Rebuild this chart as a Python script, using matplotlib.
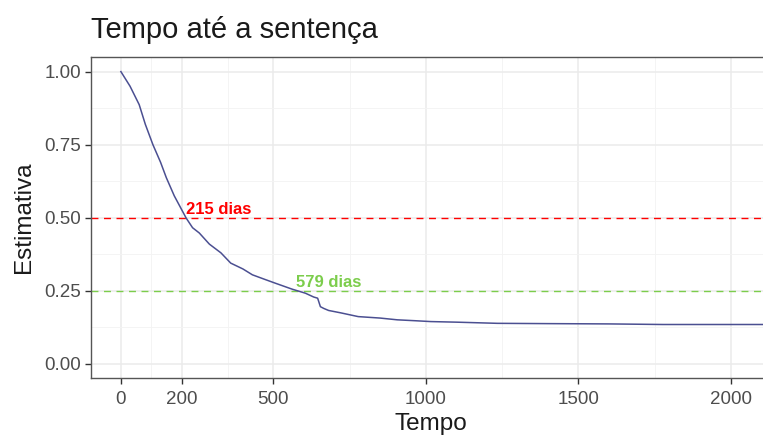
import matplotlib
matplotlib.use("Agg")
import matplotlib.pyplot as plt

plt.rcParams['font.family'] = ['Liberation Sans', 'DejaVu Sans']

tempo = [0, 30, 60, 80, 105, 130, 149, 175, 214, 235, 257, 290, 328, 360, 400,
         431, 470, 507, 561, 605, 632, 645, 654, 665, 681, 720, 778, 850, 906,
         963, 1016, 1100, 1234, 1400, 1600, 1777, 1900, 2100, 2200]
estimativa = [1.0, 0.95, 0.887, 0.82, 0.75, 0.69, 0.637, 0.575, 0.499, 0.466,
              0.448, 0.41, 0.38, 0.345, 0.325, 0.305, 0.29, 0.276, 0.256,
              0.242, 0.229, 0.225, 0.196, 0.19, 0.183, 0.175, 0.162, 0.157,
              0.151, 0.148, 0.145, 0.143, 0.139, 0.138, 0.137, 0.135, 0.135,
              0.135, 0.135]

x_breaks = [0, 200, 500, 1000, 1500, 2000]
x_minor = [100, 350, 750, 1250, 1750]
y_breaks = [0.0, 0.25, 0.5, 0.75, 1.0]
y_labels = ["0.00", "0.25", "0.50", "0.75", "1.00"]
y_minor = [0.125, 0.375, 0.625, 0.875]

mediana = 215
quartil = 579
nivel_mediana = 0.5
nivel_quartil = 0.25

fig = plt.figure(figsize=(7.63, 4.37), dpi=100)
ax = fig.add_axes([91/763, 1 - 378/437, 1 - 91/763 + 0.01, (378 - 57)/437])

ax.set_xlim(-98, 2130)
ax.set_ylim(-0.048, 1.05)

ax.set_xticks(x_breaks)
ax.set_xticks(x_minor, minor=True)
ax.set_yticks(y_breaks)
ax.set_yticklabels(y_labels)
ax.set_yticks(y_minor, minor=True)

ax.grid(True, which='major', color='#EBEBEB', linewidth=1.1, zorder=0)
ax.grid(True, which='minor', color='#F3F3F3', linewidth=0.6, zorder=0)
ax.set_axisbelow(True)

ax.plot(tempo, estimativa, color='#4B4F91', linewidth=1.1, zorder=3)

ax.axhline(nivel_mediana, color='#FF0000', linestyle=(0, (5, 4)), linewidth=1.0, zorder=2)
ax.axhline(nivel_quartil, color='#7CCD4C', linestyle=(0, (5, 4)), linewidth=1.0, zorder=2)

ax.text(mediana, nivel_mediana + 0.002, f"{mediana} dias", color='#FF0000',
        fontsize=12, fontweight='bold', ha='left', va='bottom', zorder=4)
ax.text(quartil - 6, nivel_quartil + 0.002, f"{quartil} dias", color='#7CCD4C',
        fontsize=12, fontweight='bold', ha='left', va='bottom', zorder=4)

for s in ax.spines.values():
    s.set_color('#555555')
    s.set_linewidth(1.0)

ax.tick_params(axis='both', which='major', colors='#333333', length=4, width=1,
               labelsize=13.5, labelcolor='#4D4D4D')
ax.tick_params(axis='x', which='major', pad=5)
ax.tick_params(axis='y', which='major', pad=3)
ax.tick_params(axis='both', which='minor', length=0)

ax.set_xlabel("Tempo", fontsize=17.5, color='#1A1A1A', labelpad=4)
ax.set_ylabel("Estimativa", fontsize=17.5, color='#1A1A1A', labelpad=7)
fig.text(91/763, 1 - 38/437, "Tempo até a sentença", fontsize=21,
         color='#1A1A1A', ha='left', va='baseline')

fig.savefig("out.png", dpi=100)
